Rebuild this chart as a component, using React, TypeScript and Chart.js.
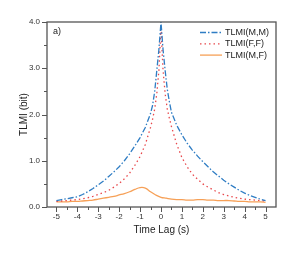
import { useEffect, useRef } from 'react';
import { Chart, registerables } from 'chart.js';

Chart.register(...registerables);

const lagSym = [
  -5, -4.75, -4.5, -4.25, -4, -3.75, -3.5, -3.25, -3, -2.75, -2.5, -2.25, -2, -1.75, -1.5, -1.25, -1, -0.75, -0.5,
  -0.4, -0.3, -0.2, -0.1, -0.05, 0, 0.05, 0.1, 0.2, 0.3, 0.4,
  0.5, 0.75, 1, 1.25, 1.5, 1.75, 2, 2.25, 2.5, 2.75, 3, 3.25, 3.5, 3.75, 4, 4.25, 4.5, 4.75, 5,
];
const tlmiMM = [
  0.14, 0.16, 0.18, 0.2, 0.22, 0.27, 0.33, 0.4, 0.48, 0.56, 0.66, 0.76, 0.87, 1.0, 1.15, 1.32, 1.5, 1.72, 2.02,
  2.2, 2.5, 2.95, 3.4, 3.7, 4.0, 3.7, 3.4, 2.95, 2.55, 2.28,
  2.05, 1.77, 1.56, 1.38, 1.23, 1.1, 0.98, 0.87, 0.76, 0.67, 0.58, 0.5, 0.43, 0.36, 0.3, 0.25, 0.21, 0.17, 0.14,
];
const tlmiFF = [
  0.12, 0.13, 0.14, 0.15, 0.16, 0.18, 0.2, 0.23, 0.27, 0.31, 0.36, 0.43, 0.51, 0.61, 0.73, 0.9, 1.09, 1.35, 1.72,
  1.9, 2.12, 2.45, 2.95, 3.4, 3.9, 3.4, 2.95, 2.45, 2.12, 1.92,
  1.74, 1.36, 1.07, 0.87, 0.71, 0.6, 0.5, 0.43, 0.37, 0.31, 0.27, 0.24, 0.21, 0.19, 0.17, 0.16, 0.15, 0.14, 0.13,
];
const lagMF = [
  -5, -4.75, -4.5, -4.25, -4, -3.75, -3.5, -3.25, -3, -2.75, -2.5, -2.25, -2, -1.75, -1.5, -1.25, -1, -0.75, -0.5, -0.25,
  0, 0.25, 0.5, 0.75, 1, 1.25, 1.5, 1.75, 2, 2.25, 2.5, 2.75, 3, 3.25, 3.5, 3.75, 4, 4.25, 4.5, 4.75, 5,
];
const tlmiMF = [
  0.11, 0.11, 0.11, 0.12, 0.12, 0.13, 0.14, 0.15, 0.17, 0.19, 0.21, 0.23, 0.26, 0.29, 0.33, 0.38, 0.42, 0.41, 0.33, 0.26,
  0.21, 0.19, 0.17, 0.16, 0.16, 0.15, 0.15, 0.16, 0.16, 0.15, 0.15, 0.14, 0.14, 0.14, 0.13, 0.12, 0.12, 0.11, 0.11, 0.11, 0.1,
];

const xTickValues = [-5, -4, -3, -2, -1, 0, 1, 2, 3, 4, 5];
const yTickValues = [0, 1, 2, 3, 4];
const seriesLabels = ['TLMI(M,M)', 'TLMI(F,F)', 'TLMI(M,F)'];
const xTitle = 'Time Lag (s)';
const yTitle = 'TLMI (bit)';
const panelLabel = 'a)';

const FONT = "'Liberation Sans', Arial, sans-serif";
const AXIS = '#555';
const colors = ['#2f7dc4', '#e8484c', '#f6a057'];
const dashes = [[6, 2, 1.5, 2], [1.5, 3], []];

const framePlugin = {
  id: 'frame',
  afterDatasetsDraw(chart: any) {
    const { ctx, chartArea: a, scales } = chart;
    const xs = scales.x;
    const ys = scales.y;
    ctx.save();
    ctx.strokeStyle = AXIS;
    ctx.lineWidth = 1.3;
    ctx.strokeRect(a.left, a.top, a.right - a.left, a.bottom - a.top);
    ctx.lineWidth = 1;
    ctx.beginPath();
    for (let i = 0; i < xTickValues.length; i++) {
      const v = xTickValues[i];
      const px = Math.round(xs.getPixelForValue(v)) + 0.5;
      ctx.moveTo(px, a.bottom);
      ctx.lineTo(px, a.bottom + 5);
      if (i < xTickValues.length - 1) {
        const m = Math.round(xs.getPixelForValue((v + xTickValues[i + 1]) / 2)) + 0.5;
        ctx.moveTo(m, a.bottom);
        ctx.lineTo(m, a.bottom + 3);
      }
    }
    for (let i = 0; i < yTickValues.length; i++) {
      const v = yTickValues[i];
      const py = Math.round(ys.getPixelForValue(v)) + 0.5;
      ctx.moveTo(a.left, py);
      ctx.lineTo(a.left - 5, py);
      if (i < yTickValues.length - 1) {
        const m = Math.round(ys.getPixelForValue((v + yTickValues[i + 1]) / 2)) + 0.5;
        ctx.moveTo(a.left, m);
        ctx.lineTo(a.left - 3, m);
      }
    }
    ctx.stroke();

    // panel label
    ctx.fillStyle = '#222';
    ctx.font = `9px ${FONT}`;
    ctx.textBaseline = 'middle';
    ctx.textAlign = 'left';
    ctx.fillText(panelLabel, a.left + 6, a.top + 10);

    // legend
    ctx.font = `9px ${FONT}`;
    const x0 = a.right - 76;
    for (let i = 0; i < seriesLabels.length; i++) {
      const y = a.top + 10.5 + i * 11.3;
      ctx.strokeStyle = colors[i];
      ctx.lineWidth = 1.3;
      ctx.setLineDash(dashes[i]);
      ctx.beginPath();
      ctx.moveTo(x0, y);
      ctx.lineTo(x0 + 22, y);
      ctx.stroke();
      ctx.setLineDash([]);
      ctx.fillStyle = '#222';
      ctx.fillText(seriesLabels[i], x0 + 25, y);
    }
    ctx.restore();
  },
};

export default function App() {
  const ref = useRef<HTMLCanvasElement>(null);
  useEffect(() => {
    if (!ref.current) return;
    const mk = (xs: number[], ys: number[]) => xs.map((x, i) => ({ x, y: ys[i] }));
    const chart = new Chart(ref.current, {
      type: 'scatter',
      data: {
        datasets: [
          { label: seriesLabels[0], data: mk(lagSym, tlmiMM), borderColor: colors[0], borderDash: dashes[0], borderWidth: 1.3, showLine: true, pointRadius: 0, tension: 0 },
          { label: seriesLabels[1], data: mk(lagSym, tlmiFF), borderColor: colors[1], borderDash: dashes[1], borderWidth: 1.3, showLine: true, pointRadius: 0, tension: 0 },
          { label: seriesLabels[2], data: mk(lagMF, tlmiMF), borderColor: colors[2], borderWidth: 1.3, showLine: true, pointRadius: 0, tension: 0.4 },
        ],
      } as any,
      options: {
        responsive: false,
        animation: false,
        layout: { padding: { left: 14, right: 18, top: 22, bottom: 14 } },
        plugins: { legend: { display: false }, tooltip: { enabled: false } },
        scales: {
          x: {
            type: 'linear',
            min: -5.45,
            max: 5.5,
            afterBuildTicks: (s: any) => { s.ticks = xTickValues.map((v) => ({ value: v })); },
            afterFit: (s: any) => { s.height = 32; },
            grid: { display: false, drawTicks: false },
            border: { display: false },
            ticks: { color: '#333', font: { size: 8, family: FONT }, padding: 5, maxRotation: 0, autoSkip: false, callback: (v: any) => String(v) },
            title: { display: true, text: xTitle, color: '#222', font: { size: 10, family: FONT }, padding: { top: 0, bottom: 3 } },
          },
          y: {
            type: 'linear',
            min: 0,
            max: 4,
            afterBuildTicks: (s: any) => { s.ticks = yTickValues.map((v) => ({ value: v })); },
            afterFit: (s: any) => { s.width = 33; },
            grid: { display: false, drawTicks: false },
            border: { display: false },
            ticks: { color: '#333', font: { size: 8, family: FONT }, padding: 7, callback: (v: any) => Number(v).toFixed(1) },
            title: { display: true, text: yTitle, color: '#222', font: { size: 10, family: FONT }, padding: { top: 4, bottom: 0 } },
          },
        },
      },
      plugins: [framePlugin],
    });
    return () => chart.destroy();
  }, []);
  return (
    <div style={{ position: 'fixed', left: 0, top: 0, width: 294, height: 253, background: '#fff' }}>
      <canvas ref={ref} width={294} height={253} style={{ width: 294, height: 253 }} />
    </div>
  );
}
